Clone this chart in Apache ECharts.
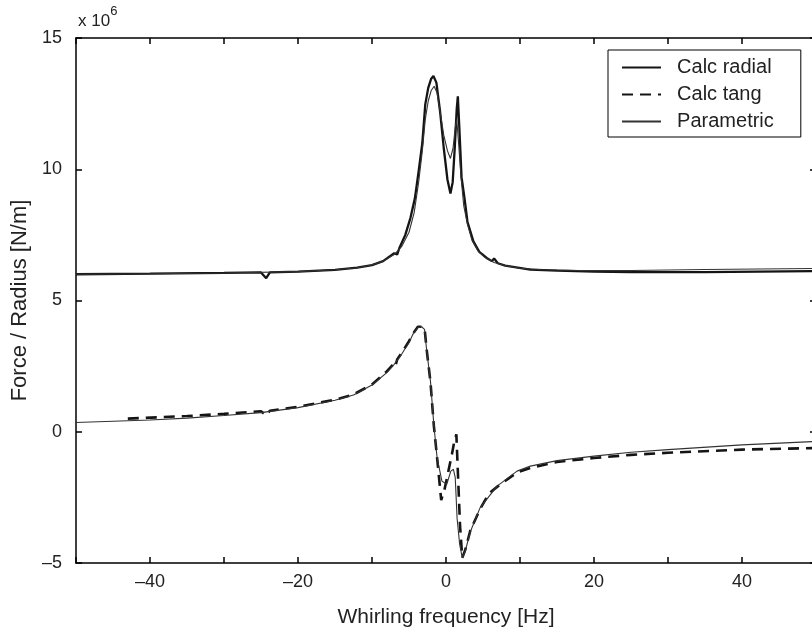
<!DOCTYPE html>
<html>
<head>
<meta charset="utf-8">
<script src="https://cdn.jsdelivr.net/npm/echarts@6/dist/echarts.min.js"></script>
<style>
html,body{margin:0;padding:0;background:#fff;}
#chart{width:812px;height:635px;}
</style>
</head>
<body>
<div id="chart"></div>
<script>
// ---- data (values in units of 1e6 N/m, frequency in Hz) ----
var radialX = [-50, -40, -30, -25, -24.3, -23.8, -20, -15, -12, -10, -8.5, -7, -6.6, -6.3, -5.5, -4.8, -4.2, -3.7, -3.2, -2.8, -2.4, -2.0, -1.7, -1.3, -0.8, -0.3, 0.2, 0.6, 0.9, 1.2, 1.45, 1.6, 1.8, 2.1, 2.5, 2.9, 3.7, 4.5, 5.5, 6.2, 6.5, 7.0, 8, 11.4, 15, 20, 25, 35, 50];
var radialY = [6.0, 6.02, 6.05, 6.07, 5.85, 6.07, 6.1, 6.17, 6.25, 6.35, 6.5, 6.8, 6.75, 7.0, 7.5, 8.15, 8.9, 9.92, 11.0, 12.47, 13.1, 13.45, 13.55, 13.3, 12.2, 10.8, 9.6, 9.08, 9.5, 10.9, 12.3, 12.78, 11.6, 9.7, 8.9, 8.0, 7.25, 6.85, 6.62, 6.5, 6.6, 6.42, 6.33, 6.18, 6.14, 6.1, 6.08, 6.08, 6.12];

var tangX = [-43, -35, -30, -25, -24.3, -23.8, -20, -15, -12.5, -10, -8, -7.2, -6.9, -6.6, -6, -5, -4.3, -3.8, -3.3, -2.9, -2.6, -2.1, -1.65, -1.2, -0.65, -0.2, 0.8, 1.1, 1.4, 1.6, 1.9, 2.2, 2.6, 3.3, 4.6, 5.8, 6.9, 9.6, 11.4, 15, 20, 25, 30, 40, 50];
var tangY = [0.5, 0.6, 0.68, 0.78, 0.62, 0.8, 0.95, 1.22, 1.42, 1.8, 2.3, 2.55, 2.45, 2.75, 3.0, 3.45, 3.8, 4.0, 4.0, 3.95, 3.1, 1.9, 0.25, -1.0, -2.6, -2.2, -0.86, -0.4, -0.1, -1.5, -3.6, -4.8, -4.5, -3.75, -2.95, -2.35, -2.1, -1.55, -1.38, -1.15, -1.0, -0.88, -0.8, -0.68, -0.62];

var paramRadX = [-50, -40, -30, -20, -15, -12, -10, -8.5, -7, -6, -5, -4.3, -3.7, -3.2, -2.8, -2.4, -2.0, -1.6, -1.2, -0.8, -0.3, 0.2, 0.6, 0.95, 1.25, 1.45, 1.7, 2.0, 2.4, 2.9, 3.5, 4.3, 5.2, 6.5, 8, 10, 13, 18, 25, 35, 50];
var paramRadY = [6.0, 6.02, 6.05, 6.1, 6.17, 6.25, 6.35, 6.5, 6.75, 7.05, 7.6, 8.35, 9.5, 10.7, 11.9, 12.6, 13.0, 13.16, 12.9, 12.2, 11.3, 10.7, 10.41, 10.8, 11.6, 11.9, 11.0, 9.8, 8.6, 7.9, 7.3, 6.9, 6.65, 6.45, 6.33, 6.23, 6.17, 6.14, 6.14, 6.18, 6.22];

var paramTanX = [-50, -45, -40, -35, -30, -25, -20, -15, -12.5, -10, -8, -7, -6, -5, -4.4, -3.8, -3.3, -2.9, -2.6, -2.1, -1.65, -1.2, -0.55, 0.1, 0.65, 1.0, 1.25, 1.5, 1.85, 2.2, 2.6, 3.3, 4.6, 6.9, 9.6, 11.4, 15, 20, 25, 30, 40, 50];
var paramTanY = [0.35, 0.4, 0.45, 0.52, 0.62, 0.73, 0.92, 1.2, 1.4, 1.78, 2.25, 2.57, 2.95, 3.4, 3.75, 3.97, 4.0, 3.9, 3.07, 1.93, 0.28, -1.0, -1.88, -2.0, -1.5, -1.43, -1.75, -3.3, -4.3, -4.8, -4.55, -3.8, -2.9, -2.07, -1.5, -1.31, -1.1, -0.93, -0.78, -0.68, -0.5, -0.37];

var seriesNames = ['Calc radial', 'Calc tang', 'Parametric'];
var xTicks = {min: -50, max: 50, interval: 10, labelEvery: 20};
var yTicks = {min: -5, max: 15, interval: 5};
var xTitle = 'Whirling frequency [Hz]';
var yTitle = 'Force / Radius [N/m]';
var scaleLabel = ['x 10', '6'];

function pairs(xs, ys) { return xs.map(function (x, i) { return [x, ys[i]]; }); }
function dashNum(v) { return String(v).replace('-', '\u2013'); }

var FONT = 'Liberation Sans, Arial, Helvetica, sans-serif';
var chart = echarts.init(document.getElementById('chart'), null, {renderer: 'canvas'});

var axisLineStyle = {color: '#000', width: 1.5};
var tickStyle = {show: true, inside: true, length: 6, lineStyle: {color: '#000', width: 1.5}};

chart.setOption({
  animation: false,
  backgroundColor: '#fff',
  grid: {left: 76, top: 38, width: 740, height: 525, containLabel: false, outerBoundsMode: 'none'},
  legend: {
    orient: 'vertical',
    left: 608, top: 50,
    data: seriesNames,
    itemWidth: 39, itemHeight: 20, itemGap: 7,
    padding: [7.5, 27, 5.5, 13],
    borderColor: '#000', borderWidth: 1,
    backgroundColor: '#fff',
    selectedMode: false,
    itemStyle: {opacity: 0, borderWidth: 0},
    textStyle: {fontFamily: FONT, fontSize: 20, color: '#222'},
    formatter: function (n) { return '  ' + n; }
  },
  graphic: [{
    type: 'text', left: 78, top: 5,
    style: {
      text: '{a|' + scaleLabel[0] + '}{b|' + scaleLabel[1] + '}',
      rich: {
        a: {fontFamily: FONT, fontSize: 17, fill: '#222', padding: [8, 0, 0, 0]},
        b: {fontFamily: FONT, fontSize: 13, fill: '#222', verticalAlign: 'top', padding: [0, 0, 10, 0]}
      }
    }
  }],
  xAxis: [{
    type: 'value', min: xTicks.min, max: xTicks.max, interval: xTicks.interval,
    position: 'bottom',
    axisLine: {show: true, onZero: false, lineStyle: axisLineStyle},
    axisTick: tickStyle,
    splitLine: {show: false},
    axisLabel: {
      fontFamily: FONT, fontSize: 18, color: '#222', margin: 10,
      formatter: function (v) { return (v % xTicks.labelEvery === 0 && v !== xTicks.min && v !== xTicks.max) ? dashNum(v) : ''; }
    },
    name: xTitle, nameLocation: 'middle', nameGap: 44,
    nameTextStyle: {fontFamily: FONT, fontSize: 21, color: '#222'}
  }, {
    type: 'value', min: xTicks.min, max: xTicks.max, interval: xTicks.interval,
    position: 'top',
    axisLine: {show: true, onZero: false, lineStyle: axisLineStyle},
    axisTick: tickStyle,
    splitLine: {show: false},
    axisLabel: {show: false}
  }],
  yAxis: [{
    type: 'value', min: yTicks.min, max: yTicks.max, interval: yTicks.interval,
    position: 'left',
    axisLine: {show: true, onZero: false, lineStyle: axisLineStyle},
    axisTick: tickStyle,
    splitLine: {show: false},
    axisLabel: {fontFamily: FONT, fontSize: 18, color: '#222', margin: 14, formatter: function (v) { return dashNum(v); }},
    name: yTitle, nameLocation: 'middle', nameGap: 40, nameRotate: 90,
    nameTextStyle: {fontFamily: FONT, fontSize: 22, color: '#222'}
  }, {
    type: 'value', min: yTicks.min, max: yTicks.max, interval: yTicks.interval,
    position: 'right',
    axisLine: {show: true, onZero: false, lineStyle: axisLineStyle},
    axisTick: tickStyle,
    splitLine: {show: false},
    axisLabel: {show: false}
  }],
  series: [{
    name: seriesNames[0], type: 'line', data: pairs(radialX, radialY),
    showSymbol: false, symbol: 'none', clip: true,
    lineStyle: {color: '#141414', width: 2.3, type: 'solid'},
    itemStyle: {color: '#141414'}, z: 3
  }, {
    name: seriesNames[1], type: 'line', data: pairs(tangX, tangY),
    showSymbol: false, symbol: 'none', clip: true,
    lineStyle: {color: '#141414', width: 2.6, type: [11, 7]},
    itemStyle: {color: '#141414'}, z: 3
  }, {
    name: seriesNames[2], type: 'line', data: pairs(paramRadX, paramRadY),
    showSymbol: false, symbol: 'none', clip: true,
    lineStyle: {color: '#333', width: 1.1},
    itemStyle: {color: '#333'}, z: 4
  }, {
    name: seriesNames[2], type: 'line', data: pairs(paramTanX, paramTanY),
    showSymbol: false, symbol: 'none', clip: true,
    lineStyle: {color: '#333', width: 1.1},
    itemStyle: {color: '#333'}, z: 4
  }]
});
</script>
</body>
</html>
